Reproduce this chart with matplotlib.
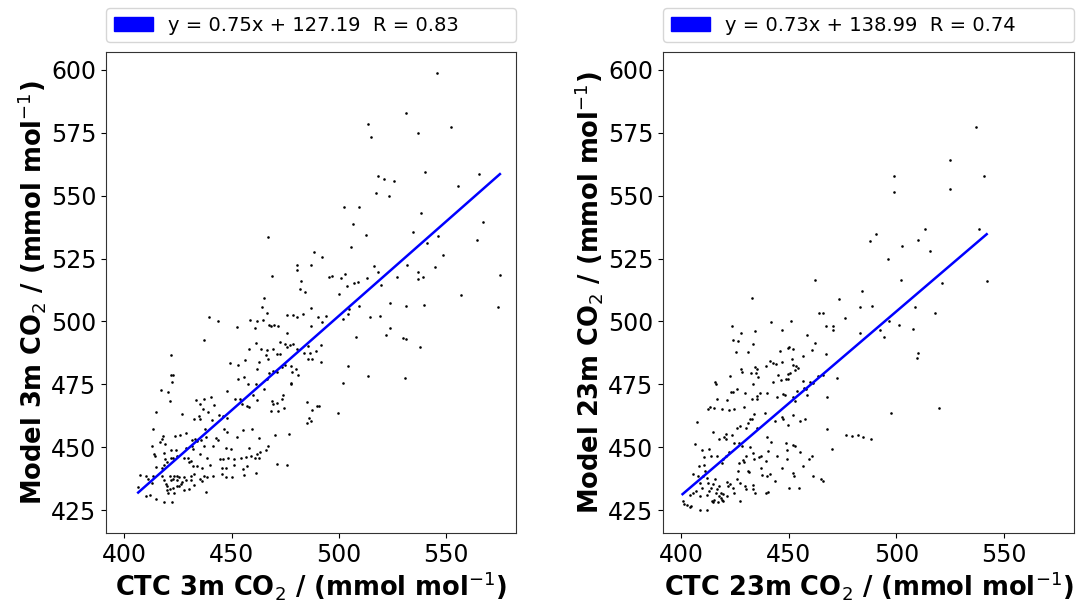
import matplotlib
matplotlib.use("Agg")
import matplotlib.pyplot as plt
from matplotlib.patches import Patch
import numpy as np

# ---------------- data ----------------
ctc_3m = [
    437.2, 461.5, 458.1, 463.9, 465.9, 466.7, 469.5, 471.3, 472.6, 472.4, 474.7, 476.0, 477.2, 478.6, 480.6,
    483.7, 485.7, 486.8, 489.3, 491.5, 485.7, 487.6, 491.5, 421.7, 449.1, 453.0, 456.1, 462.8, 467.1, 462.0,
    467.4, 469.3, 471.3, 473.6, 474.9, 477.5, 478.3, 480.2, 480.9, 421.7, 422.5, 422.2, 453.2, 456.0, 457.8,
    461.2, 465.1, 466.4, 477.5, 477.8, 417.1, 420.2, 421.5, 447.8, 451.5, 454.1, 455.0, 457.1, 458.1, 460.2,
    462.0, 468.7, 469.5, 471.3, 473.6, 474.0, 474.4, 471.6, 468.5, 485.3, 487.6, 489.9, 491.0, 433.6, 435.3,
    437.2, 440.3, 441.9, 436.7, 426.7, 439.1, 432.6, 434.9, 435.3, 441.1, 444.2, 446.2, 448.1, 414.7, 413.6,
    486.0, 487.0, 485.3, 418.1, 417.4, 416.6, 423.7, 425.9, 428.7, 431.8, 433.0, 434.1, 435.7, 438.0, 437.5,
    442.6, 443.7, 446.5, 448.1, 452.4, 455.3, 459.7, 462.8, 470.2, 476.7, 458.1, 467.0, 465.9, 462.0, 463.3,
    460.8, 412.9, 414.0, 414.4, 419.1, 418.6, 422.0, 424.0, 428.7, 432.2, 431.5, 435.2, 437.2, 438.8, 441.5,
    447.6, 449.6, 446.2, 448.4, 451.0, 454.3, 456.6, 458.9, 462.8, 414.7, 417.4, 418.6, 419.8, 419.1, 421.7,
    422.9, 424.8, 427.9, 429.8, 430.2, 431.3, 432.1, 434.1, 436.4, 439.8, 444.6, 445.4, 447.6, 451.2, 457.2,
    461.5, 455.5, 471.0, 475.7, 407.4, 410.1, 411.2, 413.3, 413.0, 417.8, 418.6, 419.4, 419.8, 421.4, 421.7,
    422.5, 423.4, 424.5, 424.8, 425.6, 427.1, 427.9, 428.7, 431.0, 431.3, 432.6, 435.3, 436.1, 437.2, 438.4,
    441.5, 445.7, 447.3, 450.4, 455.8, 406.5, 410.1, 412.1, 414.7, 418.6, 422.2, 419.8, 420.2, 421.4, 422.5,
    423.3, 424.8, 426.4, 427.9, 430.2, 432.6, 438.0, 425.6,
    512.9, 534.5, 564.4, 546.2, 541.3, 548.4, 505.5, 488.4, 492.3, 487.0, 482.2, 484.2, 495.4, 496.9,
    501.1, 503.1, 507.3, 509.0, 503.9, 513.2, 516.6, 518.5, 519.7, 527.2, 531.8, 537.1, 539.3, 537.1, 544.8,
    556.9, 575.1, 574.3, 499.9, 523.8, 531.3, 539.9, 509.5, 504.8, 504.2, 501.9, 487.0, 514.5, 519.1, 524.1,
    522.2, 508.2, 530.0, 531.5, 538.0, 504.2, 513.4, 530.9, 501.9, 494.1, 492.3, 490.3, 487.2, 483.4, 499.6,
    546.0, 531.5, 513.6, 514.8, 537.1, 552.2, 540.2, 565.3, 518.4, 521.0, 525.7, 555.7, 517.4, 523.6, 502.4,
    509.2, 538.2, 567.1, 506.6,
    467.2, 480.7, 480.7, 468.7, 481.9, 465.0, 464.4, 466.7, 439.3, 443.8, 458.7, 461.9, 464.6, 452.5, 460.8,
    467.6, 468.6, 469.8, 471.7, 476.0, 478.7, 480.7, 475.7,
]
model_3m = [
    492.6, 491.3, 489.2, 489.2, 486.5, 488.7, 488.9, 486.9, 486.9, 491.8, 490.9, 490.0, 490.5, 490.9, 489.2,
    487.6, 490.2, 487.6, 488.1, 490.5, 485.2, 485.2, 484.1, 486.8, 483.5, 482.6, 484.5, 484.1, 484.9, 481.0,
    479.6, 480.3, 480.0, 482.0, 482.7, 482.2, 480.0, 481.2, 478.8, 478.6, 478.7, 475.9, 477.2, 478.0, 475.1,
    475.0, 473.3, 477.2, 475.7, 475.0, 472.7, 471.9, 468.6, 472.5, 469.3, 469.2, 467.3, 466.4, 466.0, 470.6,
    468.8, 468.4, 467.3, 467.7, 469.3, 470.6, 465.7, 464.6, 464.6, 468.0, 464.8, 466.6, 466.5, 469.0, 467.4,
    469.4, 470.0, 467.0, 465.4, 463.2, 464.2, 461.1, 462.4, 461.1, 460.8, 462.7, 462.4, 461.5, 464.0, 457.3,
    461.6, 460.3, 459.5, 454.7, 453.4, 452.3, 454.7, 455.0, 455.8, 453.1, 453.4, 452.5, 453.1, 454.0, 457.1,
    453.8, 453.1, 457.4, 456.0, 454.3, 456.8, 457.3, 453.8, 454.8, 455.5, 449.7, 450.5, 449.1, 447.2, 448.3,
    445.6, 450.5, 447.5, 446.5, 451.4, 447.8, 449.1, 449.0, 449.8, 449.4, 450.7, 447.4, 450.7, 445.9, 450.5,
    449.8, 449.5, 445.4, 445.8, 445.2, 445.8, 446.2, 446.7, 445.8, 442.2, 441.8, 443.2, 444.1, 445.2, 445.6,
    445.9, 446.5, 445.7, 445.8, 444.1, 444.6, 442.5, 442.8, 442.0, 443.2, 445.2, 441.8, 441.8, 442.9, 442.8,
    440.0, 441.4, 443.3, 443.0, 438.9, 438.5, 437.5, 438.8, 435.9, 438.5, 437.2, 435.6, 434.5, 438.8, 437.2,
    437.5, 438.5, 438.8, 436.9, 438.3, 436.1, 438.3, 437.2, 438.5, 437.2, 439.6, 437.5, 436.5, 438.5, 438.3,
    438.5, 439.6, 438.1, 438.3, 439.1, 434.1, 430.8, 431.0, 429.5, 428.4, 428.3, 433.2, 431.9, 433.5, 433.9,
    431.9, 434.5, 435.6, 433.2, 433.5, 435.2, 432.2, 434.8,
    534.3, 535.6, 532.5, 533.8, 531.1, 526.4, 529.4, 527.4, 525.4, 522.4, 516.1, 511.8, 517.5, 517.9,
    517.1, 518.8, 515.1, 515.7, 513.9, 517.2, 522.1, 519.7, 514.4, 517.5, 522.5, 519.5, 517.7, 516.8, 521.8,
    510.7, 518.3, 505.7, 511.1, 507.5, 506.1, 506.7, 506.2, 505.1, 503.1, 500.9, 505.3, 501.8, 502.2, 497.3,
    494.8, 493.9, 493.6, 492.9, 490.0, 482.3, 478.2, 477.7, 475.4, 502.0, 499.6, 501.6, 498.2, 503.1, 463.5,
    598.8, 582.7, 578.5, 573.2, 574.9, 577.1, 559.5, 558.6, 557.8, 556.6, 555.8, 553.8, 550.9, 549.8, 545.6,
    545.3, 542.9, 539.6, 538.7,
    533.6, 522.5, 520.4, 518.0, 512.8, 509.5, 505.9, 503.5, 501.9, 500.3, 500.6, 500.1, 500.6, 497.8, 497.5,
    498.5, 498.2, 498.5, 498.0, 502.6, 502.7, 501.9, 495.3,
]

ctc_23m = [
    423.7, 427.6, 434.3, 441.7, 451.0, 446.8, 423.9, 426.2, 433.5, 425.4, 431.2, 445.9, 449.5, 450.2, 451.8,
    458.6, 462.2, 460.9, 467.3, 470.4, 470.7, 467.1, 456.4,
    441.4, 442.8, 443.9, 439.4, 434.3, 435.0, 434.6, 432.3, 427.8, 428.1, 422.6, 435.8, 446.7, 451.3, 451.8,
    453.3, 454.4, 452.9, 450.5, 449.8, 448.5, 445.1, 442.8, 446.2, 449.5, 459.8, 456.4, 463.7, 466.0, 472.2,
    415.7, 416.1, 426.1, 423.1, 423.9, 433.5, 436.6, 435.0, 435.0, 432.7, 429.6, 439.7, 444.3, 447.1, 448.2,
    453.6, 452.1, 452.9, 457.0, 457.8, 458.3, 461.4, 467.9,
    416.4, 421.1, 413.3, 415.2, 412.6, 419.1, 422.3, 424.5, 429.1, 432.7, 431.9, 434.0, 431.2, 430.1, 427.3,
    426.1, 435.0, 438.9, 443.6, 446.7, 447.4, 449.8, 451.8, 455.2, 457.5,
    407.1, 414.6, 420.6, 419.9, 417.4, 420.6, 423.7, 427.0, 428.4, 424.7, 422.3, 420.8, 419.5, 419.1, 416.4,
    413.7, 410.4, 413.0, 409.5, 406.4, 440.0, 440.5, 441.7, 436.9, 436.1, 439.5, 433.5, 431.9, 430.1, 429.1,
    428.5, 427.0, 433.8, 430.9, 431.6, 436.9, 437.7, 441.2, 440.0, 444.6, 446.7, 448.7, 449.3, 451.8, 452.9,
    455.2, 456.7, 459.5, 460.6, 461.1, 464.8, 465.7, 451.8, 452.4, 449.3, 467.6, 470.1, 426.5,
    405.6, 407.6, 408.4, 410.6, 411.0, 410.2, 408.7, 409.5, 411.8, 412.6, 412.9, 413.7, 414.9, 415.7, 416.1,
    416.4, 417.7, 417.7, 418.8, 419.2, 418.5, 419.5, 421.1, 421.9, 422.6, 423.9, 424.5, 421.1, 427.3, 426.1,
    427.3, 429.6, 430.1, 433.2, 434.3, 433.5, 439.4, 440.5, 443.6, 450.2, 454.9, 414.1, 414.9, 415.4, 417.2,
    418.5, 401.3, 402.8, 404.4, 400.6, 405.6, 406.8, 404.0, 408.7, 411.8, 408.7, 411.8, 404.1,
    537.0, 525.0, 540.9, 498.7, 499.1, 525.0, 513.2, 538.6, 490.4, 487.6, 510.2, 502.5, 515.8, 496.3, 462.0,
    502.0, 521.4, 542.0, 484.2, 473.2, 464.0, 466.0, 482.9, 488.7, 508.7, 476.1, 517.8, 483.2, 492.4, 494.3,
    496.7, 501.4, 507.7, 510.2, 509.7, 432.9,
    476.5, 479.5, 482.0, 484.5, 488.0, 497.5, 520.0,
]
model_23m = [
    498.0, 495.6, 496.3, 499.6, 500.2, 496.7, 492.7, 492.3, 491.0, 487.9, 487.9, 488.2, 489.6, 490.0, 489.2,
    494.5, 491.6, 488.7, 498.0, 498.0, 496.7, 487.0, 486.2,
    484.3, 483.7, 483.0, 482.3, 482.1, 481.0, 479.7, 479.4, 481.0, 480.1, 478.4, 478.1, 483.9, 485.0, 482.7,
    482.3, 481.7, 480.8, 479.7, 479.0, 477.3, 478.6, 476.0, 476.6, 477.0, 476.0, 476.4, 478.4, 478.6, 477.7,
    476.1, 475.0, 473.3, 472.0, 472.1, 475.0, 471.7, 470.4, 469.1, 469.1, 471.5, 471.7, 470.1, 471.1, 470.7,
    472.4, 470.1, 468.4, 473.7, 473.0, 470.7, 475.7, 470.1,
    469.3, 468.8, 466.2, 465.8, 465.1, 465.1, 464.8, 465.4, 466.2, 461.1, 461.1, 463.1, 459.8, 457.8, 458.5,
    457.8, 457.8, 463.8, 460.5, 462.2, 461.1, 458.7, 462.7, 460.5, 461.1,
    460.2, 456.1, 455.2, 454.2, 453.2, 453.2, 454.8, 451.6, 450.5, 451.8, 448.1, 446.5, 445.2, 443.6, 446.5,
    446.5, 446.3, 449.2, 448.8, 451.2, 454.2, 448.5, 452.2, 446.5, 446.1, 444.5, 447.9, 450.3, 446.5, 444.2,
    445.0, 443.6, 445.2, 440.6, 440.3, 441.9, 439.2, 439.6, 438.6, 446.5, 441.9, 451.8, 448.9, 450.8, 450.5,
    448.1, 442.6, 445.5, 446.5, 438.6, 437.5, 436.6, 439.9, 438.6, 445.2, 457.4, 449.2, 440.6,
    439.6, 438.8, 442.6, 443.2, 440.6, 438.6, 435.9, 433.7, 437.9, 435.9, 432.6, 433.9, 435.3, 437.5, 432.0,
    433.3, 434.6, 430.6, 429.3, 428.6, 431.7, 431.3, 436.2, 434.6, 435.3, 433.9, 431.9, 430.6, 428.6, 437.5,
    435.7, 434.6, 433.6, 434.9, 432.0, 433.3, 432.0, 432.2, 436.6, 433.9, 433.9, 428.6, 428.2, 429.3, 428.2,
    429.7, 427.7, 427.3, 426.6, 428.6, 432.0, 432.6, 430.9, 430.6, 430.9, 425.0, 425.0, 426.4,
    577.1, 564.0, 557.9, 557.8, 551.5, 552.7, 536.7, 536.7, 534.8, 531.8, 532.3, 529.9, 527.9, 524.8, 516.4,
    516.4, 515.2, 516.1, 511.9, 508.8, 503.5, 503.5, 505.9, 506.2, 505.8, 501.2, 503.3, 495.3, 496.5, 493.9,
    500.0, 498.5, 496.9, 487.5, 485.5, 509.3,
    455.0, 454.5, 454.8, 454.2, 453.5, 463.5, 465.5,
]

slope_3m, intercept_3m = 0.75, 127.19
slope_23m, intercept_23m = 0.73, 138.99
legend_3m = "y = 0.75x + 127.19  R = 0.83"
legend_23m = "y = 0.73x + 138.99  R = 0.74"
xlabels = [r"CTC 3m CO$_2$ / (mmol mol$^{-1}$)", r"CTC 23m CO$_2$ / (mmol mol$^{-1}$)"]
ylabels = [r"Model 3m CO$_2$ / (mmol mol$^{-1}$)", r"Model 23m CO$_2$ / (mmol mol$^{-1}$)"]
xticks = [400, 450, 500, 550]
yticks = [425, 450, 475, 500, 525, 550, 575, 600]

# ---------------- figure ----------------
fig = plt.figure(figsize=(10.78, 6.07), dpi=100)
ax1 = fig.add_axes([106 / 1078, 1 - 533 / 607, 410 / 1078, 481 / 607])
ax2 = fig.add_axes([663 / 1078, 1 - 533 / 607, 411 / 1078, 481 / 607])

panels = [
    (ax1, ctc_3m, model_3m, slope_3m, intercept_3m, legend_3m),
    (ax2, ctc_23m, model_23m, slope_23m, intercept_23m, legend_23m),
]
for i, (ax, xs, ys, m, b, lab) in enumerate(panels):
    xs = np.asarray(xs)
    ys = np.asarray(ys)
    ax.scatter(xs, ys, s=3.5, c="k", linewidths=0, zorder=2)
    xl = np.array([xs.min(), xs.max()])
    ax.plot(xl, m * xl + b, color="blue", lw=1.8, zorder=3)
    ax.set_xlim(391.5, 582.6)
    ax.set_ylim(416.0, 607.0)
    ax.set_xticks(xticks)
    ax.set_yticks(yticks)
    ax.tick_params(labelsize=17)
    for s in ax.spines.values():
        s.set_color("#333333")
    ax.set_xlabel(xlabels[i], fontsize=18.5, fontweight="bold", labelpad=2)
    ax.set_ylabel(ylabels[i], fontsize=18.5, fontweight="bold", labelpad=2)
    handle = Patch(facecolor="blue", edgecolor="blue")
    ax.legend([handle], [lab], loc="lower left", bbox_to_anchor=(0, 1.02, 1, 0.08),
              mode="expand", borderaxespad=0, fontsize=14, frameon=True)

fig.savefig("out.png", dpi=100)
